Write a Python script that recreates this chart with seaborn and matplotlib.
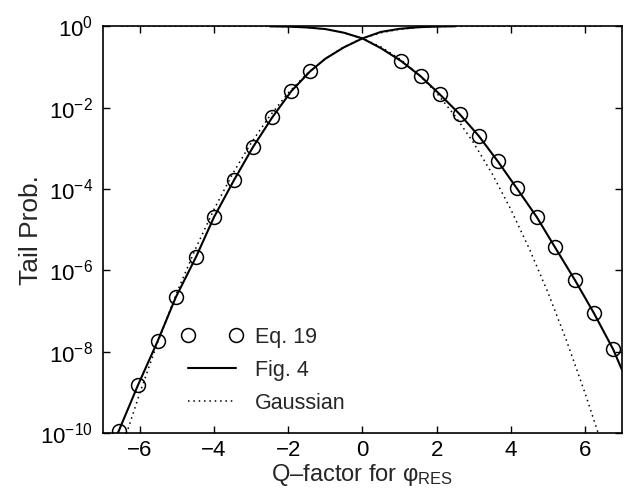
import numpy as np
import pandas as pd
import seaborn as sns
import matplotlib
matplotlib.use("Agg")
import matplotlib.pyplot as plt
from matplotlib.ticker import FixedLocator, LogFormatterMathtext

# circles (x, log10 of tail prob.)
eq19_left_x = [-6.57, -6.05, -5.52, -5.03, -4.49, -4.0, -3.46, -2.95, -2.43, -1.92, -1.41]
eq19_left_log = [-9.95, -8.82, -7.74, -6.66, -5.68, -4.69, -3.78, -2.97, -2.24, -1.60, -1.11]
eq19_right_x = [1.05, 1.57, 2.08, 2.62, 3.14, 3.65, 4.16, 4.70, 5.19, 5.73, 6.24, 6.76]
eq19_right_log = [-0.86, -1.23, -1.67, -2.16, -2.70, -3.32, -3.98, -4.69, -5.43, -6.24, -7.05, -7.94]

# solid "Fig. 4" curves
fig4_left_x = [-6.8, -6.57, -6.05, -5.52, -5.03, -4.49, -4.0, -3.46, -2.95, -2.43, -1.92,
               -1.41, -1.0, -0.5, 0.0, 0.5, 1.0, 1.5, 2.0, 2.5]
fig4_left_log = [-10.4, -9.95, -8.82, -7.74, -6.66, -5.68, -4.69, -3.78, -2.97, -2.24, -1.60,
                 -1.11, -0.80, -0.52, -0.30, -0.14, -0.065, -0.025, -0.008, -0.002]
fig4_right_x = [-2.5, -2.0, -1.5, -1.0, -0.5, 0.0, 0.5, 1.05, 1.57, 2.08, 2.62, 3.14, 3.65,
                4.16, 4.70, 5.19, 5.73, 6.24, 6.76, 7.0]
fig4_right_log = [-0.003, -0.01, -0.03, -0.07, -0.16, -0.30, -0.54, -0.86, -1.23, -1.67, -2.16,
                  -2.70, -3.32, -3.98, -4.69, -5.43, -6.24, -7.05, -7.94, -8.45]

# dotted Gaussian
gauss_x = [0.0, 0.5, 1.0, 1.5, 2.0, 2.5, 3.0, 3.5, 4.0, 4.5, 5.0, 5.5, 6.0, 6.5]
gauss_log = [-0.30, -0.51, -0.80, -1.17, -1.64, -2.21, -2.87, -3.63, -4.50, -5.47,
             -6.54, -7.72, -9.01, -10.40]
gauss_near = [-0.30, -0.16, -0.075, -0.03, -0.01, -0.003, -0.001, 0, 0, 0, 0, 0, 0, 0]

sns.set_theme(style="white")
plt.rcParams['font.family'] = ['Liberation Sans', 'DejaVu Sans']
plt.rcParams['mathtext.fontset'] = 'custom'
plt.rcParams['mathtext.rm'] = 'Liberation Sans'
plt.rcParams['mathtext.it'] = 'Liberation Sans:italic'

fig = plt.figure(figsize=(6.27, 5.04), dpi=100)
ax = fig.add_axes([0.164, 0.141, 0.828, 0.807])

gx = np.array(gauss_x)
gl = np.array(gauss_log)
gn = np.array(gauss_near)
gauss_df = pd.DataFrame({
    "x": np.concatenate([-gx[::-1], gx[1:]]),
    "y": 10 ** np.concatenate([gl[::-1], gn[1:]]),
})
gauss_df2 = pd.DataFrame({
    "x": np.concatenate([-gx[::-1], gx[1:]]),
    "y": 10 ** np.concatenate([gn[::-1], gl[1:]]),
})
sns.lineplot(data=gauss_df, x="x", y="y", ax=ax, color="black", lw=1.1,
             linestyle=(0, (1, 2.5)), sort=False, label="Gaussian")
sns.lineplot(data=gauss_df2, x="x", y="y", ax=ax, color="black", lw=1.1,
             linestyle=(0, (1, 2.5)), sort=False)

left_df = pd.DataFrame({"x": fig4_left_x, "y": 10 ** np.array(fig4_left_log)})
right_df = pd.DataFrame({"x": fig4_right_x, "y": 10 ** np.array(fig4_right_log)})
sns.lineplot(data=left_df, x="x", y="y", ax=ax, color="black", lw=1.5, sort=False, label="Fig. 4")
sns.lineplot(data=right_df, x="x", y="y", ax=ax, color="black", lw=1.5, sort=False)

eq_df = pd.DataFrame({"x": eq19_left_x + eq19_right_x,
                      "y": 10 ** np.array(eq19_left_log + eq19_right_log)})
ax.plot(eq_df["x"], eq_df["y"], "o", mfc="none", mec="black", ms=10, mew=1.1,
        label="Eq. 19")

ax.set_yscale("log")
ax.set_xlim(-7, 7)
ax.set_ylim(1e-10, 1)
ax.xaxis.set_major_locator(FixedLocator([-6, -4, -2, 0, 2, 4, 6]))
ax.yaxis.set_major_locator(FixedLocator([1e-10, 1e-8, 1e-6, 1e-4, 1e-2, 1]))
ax.yaxis.set_major_formatter(LogFormatterMathtext())
ax.yaxis.set_minor_locator(FixedLocator([]))
ax.tick_params(direction="in", length=5, width=1, top=True, right=True,
               bottom=True, left=True, labelsize=16, colors="black")
ax.tick_params(axis="y", pad=7)
ax.tick_params(axis="x", pad=5)
for s in ax.spines.values():
    s.set_color("black")
    s.set_linewidth(1.2)

ax.set_xlabel("Q\u2013factor for \u03c6$_{\\rm RES}$", fontsize=17, labelpad=1)
ax.set_ylabel("Tail Prob.", fontsize=19, labelpad=-2)

h, l = ax.get_legend_handles_labels()
order = [l.index("Eq. 19"), l.index("Fig. 4"), l.index("Gaussian")]
ax.legend([h[i] for i in order], [l[i] for i in order], loc="lower left",
          bbox_to_anchor=(0.115, 0.0), frameon=False, fontsize=15.5, numpoints=2,
          handlelength=2.8, labelspacing=0.55, handletextpad=0.6)

fig.savefig("out.png", dpi=100)
